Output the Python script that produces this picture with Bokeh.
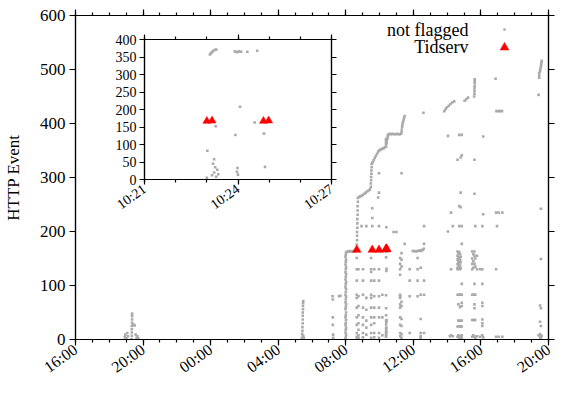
import pandas as pd
from bokeh.plotting import figure
from bokeh.models import (Range1d, FixedTicker, DatetimeAxis, LinearAxis, CustomJSTickFormatter,
                          Legend, LegendItem, Label, GridBox, ColumnDataSource)
from bokeh.core.properties import value
from bokeh.embed import file_html
from bokeh.resources import INLINE

DAY1 = "2024-03-01"
DAY2 = "2024-03-02"

# ---------------- data: "not flagged" events ----------------
evening_t = ["18:55", "18:57", "19:01", "19:04", "19:06", "19:19", "19:20", "19:20", "19:20", "19:20",
             "19:21", "19:21", "19:21", "19:21", "19:24", "19:27", "19:30", "19:34", "19:37", "19:40", "19:43"]
evening_v = [4, 9, 2, 12, 6, 1, 7, 13, 19, 25, 31, 37, 43, 48, 27, 27, 26, 9, 3, 6, 2]

dawn_t = ["05:24", "05:25", "05:26", "05:26", "05:26", "05:27", "05:27", "05:27", "05:27", "05:28", "05:28",
          "05:28", "05:29", "05:29", "05:31", "07:13", "07:14", "07:14", "07:14", "07:15", "07:15", "07:36", "07:41"]
dawn_v = [3, 10, 0, 16, 23, 30, 37, 44, 50, 56, 62, 67, 71, 7, 3, 80, 74, 41, 27, 9, 3, 80, 81]

col0800_t = ["07:59", "08:00", "08:01"]
col0800_v = [[1, 13, 27, 41, 56, 69, 83, 97, 111, 125, 139, 153],
             [4, 18, 31, 45, 60, 74, 88, 102, 116, 130, 144, 157],
             [9, 22, 36, 50, 65, 79, 93, 107, 121, 134, 148, 161]]

shelf_t = ["08:03", "08:07", "08:11", "08:15", "08:19", "08:23", "08:27", "08:31", "08:35"]
shelf_v = [162, 163, 163, 164, 163, 163, 164, 163, 164]

stair_t = ["08:39", "08:39", "08:40", "08:40", "08:40", "08:41", "08:41", "08:41", "08:42", "08:42", "08:42", "08:43", "08:43",
           "08:46", "08:51", "08:56", "09:01", "09:06", "09:11", "09:16", "09:21", "09:26",
           "09:29", "09:29", "09:30", "09:30", "09:31", "09:31", "09:32", "09:32",
           "09:35", "09:39", "09:43", "09:47", "09:51", "09:55", "09:59", "10:04", "10:09", "10:14", "10:19",
           "10:28", "10:29", "10:30",
           "10:33", "10:37", "10:42", "10:47", "10:52", "10:57", "11:02", "11:07", "11:12", "11:16",
           "11:18", "11:19", "11:20", "11:21", "11:23", "11:25", "11:27", "11:29"]
stair_v = [168, 176, 184, 192, 199, 207, 215, 223, 231, 239, 247, 255, 262,
           264, 265, 266, 268, 270, 272, 274, 276, 278,
           283, 289, 295, 301, 307, 313, 319, 325,
           328, 332, 336, 340, 344, 348, 350, 352, 353, 354, 356,
           372, 376, 379,
           380, 381, 380, 381, 380, 380, 381, 380, 380, 381,
           384, 389, 394, 398, 402, 406, 410, 414]

upper_t = ["12:36", "13:50", "13:55", "14:00", "14:06", "14:12", "14:18", "14:25", "15:02", "15:08", "15:14",
           "15:36", "15:37", "15:37", "15:37", "15:38", "15:38", "15:38", "15:38", "16:52", "16:55", "17:02",
           "17:09", "17:15", "19:25", "19:27", "19:27", "19:27", "19:30", "19:31", "19:33", "19:34", "19:35", "19:36"]
upper_v = [420, 423, 427, 430, 433, 436, 439, 441, 442, 445, 448, 450, 455, 460, 465, 470, 475, 479, 482,
           483, 423, 423, 423, 423, 453, 485, 489, 493, 497, 501, 505, 509, 513, 516]

morning_hi_t = ["08:56", "09:13", "09:34", "09:58", "12:38", "09:34", "09:34", "09:55", "09:58", "09:58",
                "11:18", "10:50", "11:00", "11:29", "12:38"]
morning_hi_v = [210, 210, 210, 210, 210, 243, 225, 263, 272, 308, 308, 199, 199, 177, 177]

shortline_t = ["11:58", "12:03", "12:08", "12:13", "12:18", "12:23", "12:28", "12:33", "12:37"]
shortline_v = [164, 164, 163, 164, 164, 165, 164, 166, 168]

morning_col_t = ["08:39", "08:45", "09:01", "09:13", "09:30", "09:41", "09:58", "10:10", "11:13", "11:18",
                 "11:47", "12:15", "12:26", "12:38"]
morning_col_v = [[151, 130, 109, 83, 77, 59, 41, 27, 12, 5, 2],
                 [130, 80, 62, 45, 30, 18, 8, 3],
                 [130, 109, 83, 59, 41, 27, 12, 4],
                 [77, 55, 35, 22, 9],
                 [151, 130, 125, 109, 83, 77, 59, 41, 27, 12, 3],
                 [130, 109, 80, 59, 41, 30, 12, 4],
                 [130, 109, 80, 59, 41, 12, 3],
                 [83, 41, 8],
                 [151, 140, 130, 120, 83, 80, 77, 65, 59, 41, 27, 12, 6],
                 [160, 148, 135, 70, 62, 38, 25, 10, 3],
                 [130, 109, 80, 12],
                 [151, 130, 109, 80],
                 [133, 83, 38, 12, 6, 3],
                 [109, 83, 12]]

afternoon_col_t = ["14:03", "14:10", "14:14", "14:20", "14:37", "14:40", "14:43", "14:46", "14:48", "14:52",
                   "15:29", "15:33", "15:37", "15:40", "15:46", "15:57", "16:05", "16:08", "16:54", "16:57",
                   "17:03", "17:16", "19:25", "19:30", "19:33", "19:36"]
afternoon_col_v = [[377, 200], [6], [235, 130, 8], [210, 6],
                   [333, 163, 155, 148, 140, 133, 130, 83, 24, 5],
                   [160, 152, 145, 138, 131, 65, 35, 8],
                   [379, 247, 210, 162, 150, 142, 135, 83, 24, 3],
                   [158, 147, 137, 130, 83, 60, 35, 6],
                   [337, 272, 245, 153, 143, 132, 83, 24, 4],
                   [379, 341, 210, 177, 103, 83, 68, 62, 35, 24, 8, 3],
                   [163, 150, 140, 130, 83, 36, 5],
                   [158, 145, 133, 83, 36, 8],
                   [333, 270, 163, 155, 140, 103, 83, 65, 58, 36, 5],
                   [210, 150, 135, 83, 36, 3],
                   [155, 130, 6], [130, 5],
                   [210, 130, 103, 68, 62, 37, 30, 25, 8],
                   [376, 232, 4], [235, 130, 5], [210], [235, 5], [235, 5], [8],
                   [63, 33, 10, 4], [242, 149, 58, 25, 6, 2], [7]]

inset_t = ["10:23:00", "10:23:01", "10:23:06", "10:23:08", "10:23:10", "10:23:10", "10:23:12", "10:23:12",
           "10:23:14", "10:23:14", "10:23:15", "10:23:16", "10:23:17", "10:23:18", "10:23:18", "10:23:20",
           "10:23:22", "10:23:54", "10:23:55", "10:23:58", "10:23:58", "10:23:59", "10:24:00", "10:24:02",
           "10:24:04", "10:24:06", "10:24:18", "10:24:32", "10:24:37", "10:24:50", "10:24:52"]
inset_v = [5, 82, 357, 361, 364, 12, 367, 45, 58, 20, 370, 35, 152, 371, 8, 28, 15,
           366, 127, 364, 22, 33, 14, 366, 208, 365, 365, 163, 368, 131, 36]

# ---------------- data: "Tidserv" flagged events ----------------
tid_t = ["08:39", "09:34", "09:58", "10:23:00", "10:23:10", "10:24:49", "10:24:59"]
tid_v = [166, 166, 166, 167, 168, 167, 168]

# ---------------- axis ticks ----------------
main_start, main_end = DAY1 + " 16:00", DAY2 + " 20:00"
inset_start, inset_end = DAY2 + " 10:21", DAY2 + " 10:27"
main_y_ticks = [0, 100, 200, 300, 400, 500, 600]
inset_y_ticks = [0, 50, 100, 150, 200, 250, 300, 350, 400]


def stamps(day, times):
    return [pd.Timestamp(day + " " + t) for t in times]


def expand(times, vals):
    ot, ov = [], []
    for t, vs in zip(times, vals):
        ot += [t] * len(vs)
        ov += vs
    return ot, ov


c1_t, c1_v = expand(col0800_t, col0800_v)
c2_t, c2_v = expand(morning_col_t, morning_col_v)
c3_t, c3_v = expand(afternoon_col_t, afternoon_col_v)

nf_x = (stamps(DAY1, evening_t) + stamps(DAY2, dawn_t) + stamps(DAY2, c1_t) + stamps(DAY2, shelf_t)
        + stamps(DAY2, stair_t) + stamps(DAY2, upper_t) + stamps(DAY2, morning_hi_t)
        + stamps(DAY2, shortline_t) + stamps(DAY2, c2_t) + stamps(DAY2, c3_t) + stamps(DAY2, inset_t))
nf_y = (evening_v + dawn_v + c1_v + shelf_v + stair_v + upper_v + morning_hi_v + shortline_v
        + c2_v + c3_v + inset_v)

nf_src = ColumnDataSource(dict(x=pd.DatetimeIndex(nf_x), y=nf_y))
tid_src = ColumnDataSource(dict(x=pd.DatetimeIndex(stamps(DAY2, tid_t)), y=tid_v))


def ms(s):
    return pd.Timestamp(s).value / 1e6


FONT = "Liberation Serif"
GRAY = "#aaaaaa"
HHMM_CODE = """
const d = new Date(tick);
return String(d.getUTCHours()).padStart(2, '0') + ':' + String(d.getUTCMinutes()).padStart(2, '0');
"""
BLANK = "return '';"


def style_axis(ax, size, tick=6, minor=3):
    ax.axis_line_color = "black"
    ax.axis_line_width = 1.2
    ax.major_tick_line_color = "black"
    ax.major_tick_line_width = 1.2
    ax.minor_tick_line_color = "black"
    ax.minor_tick_line_width = 1.2
    ax.major_tick_out = tick
    ax.major_tick_in = 0
    ax.minor_tick_out = minor
    ax.minor_tick_in = 0
    ax.major_label_text_font = FONT
    ax.major_label_text_font_style = "normal"
    ax.major_label_text_font_size = size
    ax.major_label_text_color = "black"


def mirror(ax):
    ax.formatter = CustomJSTickFormatter(code=BLANK)
    ax.major_label_text_font_size = "0px"
    ax.major_label_standoff = 0


# ---------------- main figure ----------------
p = figure(width=556, height=385, x_axis_type="datetime",
           x_range=Range1d(pd.Timestamp(main_start), pd.Timestamp(main_end)),
           y_range=Range1d(0, 600), output_backend="svg", toolbar_location=None,
           min_border_left=72, min_border_right=5, min_border_top=15, min_border_bottom=45)
p.xgrid.visible = False
p.ygrid.visible = False
p.outline_line_color = "black"
p.outline_line_width = 1.2
p.background_fill_color = "white"
p.border_fill_color = "white"

x_major = [ms(t) for t in pd.date_range(main_start, main_end, freq="4h")]
x_minor = [ms(t) for t in pd.date_range(main_start, main_end, freq="1h")]
xt = FixedTicker(ticks=x_major, minor_ticks=x_minor)
yt = FixedTicker(ticks=main_y_ticks, minor_ticks=[])

xa = p.xaxis[0]
xa.ticker = xt
xa.formatter = CustomJSTickFormatter(code=HHMM_CODE)
style_axis(xa, "16px")
xa.major_label_orientation = 0.62
xa.major_label_standoff = 2

ya = p.yaxis[0]
ya.ticker = yt
style_axis(ya, "17px", minor=0)
ya.major_label_standoff = 4
ya.axis_label = "HTTP Event"
ya.axis_label_text_font = FONT
ya.axis_label_text_font_size = "17px"
ya.axis_label_text_font_style = "normal"
ya.axis_label_text_color = "black"
ya.axis_label_standoff = 14

top = DatetimeAxis(ticker=xt)
style_axis(top, "0px")
mirror(top)
p.add_layout(top, "above")
right = LinearAxis(ticker=yt)
style_axis(right, "0px", minor=0)
mirror(right)
p.add_layout(right, "right")

r_nf = p.scatter("x", "y", source=nf_src, marker="square", size=2.6, fill_color=GRAY, line_color=None)
r_tid = p.scatter("x", "y", source=tid_src, marker="triangle", size=8.5, fill_color="red", line_color="red",
                  line_width=0.5)

leg1 = Legend(items=[LegendItem(label=value(""), renderers=[r_nf])], location=(426, 307),
              glyph_width=6, glyph_height=6, label_width=0, label_height=0, label_standoff=0,
              padding=0, margin=0, spacing=0, border_line_color=None, background_fill_alpha=0,
              label_text_font_size="1px")
leg2 = Legend(items=[LegendItem(label=value(""), renderers=[r_tid])], location=(418, 281),
              glyph_width=22, glyph_height=22, label_width=0, label_height=0, label_standoff=0,
              padding=0, margin=0, spacing=0, border_line_color=None, background_fill_alpha=0,
              label_text_font_size="1px")
p.add_layout(leg1)
p.add_layout(leg2)
for txt, yy in (("not flagged", 310), ("Tidserv", 293)):
    p.add_layout(Label(x=393, y=yy, x_units="screen", y_units="screen", text=txt, text_align="right",
                       text_baseline="middle", text_font=FONT, text_font_size="18px", text_color="black"))

# ---------------- inset figure ----------------
p2 = figure(width=270, height=201, x_axis_type="datetime",
            x_range=Range1d(pd.Timestamp(inset_start), pd.Timestamp(inset_end)),
            y_range=Range1d(0, 400), output_backend="svg", toolbar_location=None,
            min_border_left=34, min_border_right=8, min_border_top=8, min_border_bottom=42)
p2.xgrid.visible = False
p2.ygrid.visible = False
p2.outline_line_color = "black"
p2.outline_line_width = 1.2
p2.background_fill_color = "white"
p2.border_fill_alpha = 0
p2.background_fill_alpha = 1

ix_major = [ms(t) for t in pd.date_range(inset_start, inset_end, freq="3min")]
ix_minor = [ms(t) for t in pd.date_range(inset_start, inset_end, freq="1min")]
ixt = FixedTicker(ticks=ix_major, minor_ticks=ix_minor)
iyt = FixedTicker(ticks=inset_y_ticks, minor_ticks=[])

ixa = p2.xaxis[0]
ixa.ticker = ixt
ixa.formatter = CustomJSTickFormatter(code=HHMM_CODE)
style_axis(ixa, "14px", tick=5, minor=3)
ixa.major_label_orientation = 0.62
ixa.major_label_standoff = 3
iya = p2.yaxis[0]
iya.ticker = iyt
style_axis(iya, "14px", tick=5, minor=0)
iya.major_label_standoff = 3

itop = DatetimeAxis(ticker=ixt)
style_axis(itop, "0px", tick=5, minor=3)
mirror(itop)
p2.add_layout(itop, "above")
iright = LinearAxis(ticker=iyt)
style_axis(iright, "0px", tick=5, minor=0)
mirror(iright)
p2.add_layout(iright, "right")

p2.scatter("x", "y", source=nf_src, marker="square", size=2.6, fill_color=GRAY, line_color=None)
p2.scatter("x", "y", source=tid_src, marker="triangle", size=8, fill_color="red", line_color="red",
           line_width=0.5)
p2.margin = (24, 0, 0, 69)

layout = GridBox(children=[(p, 0, 0), (p2, 0, 0)])

open("out.html", "w").write(file_html(layout, INLINE))
